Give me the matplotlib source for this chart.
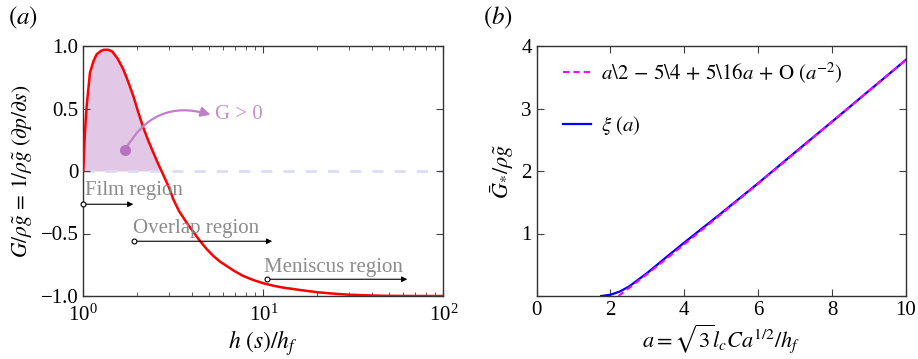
import matplotlib
matplotlib.use('Agg')
import matplotlib.pyplot as plt
from matplotlib.ticker import FixedLocator, FixedFormatter, LogLocator, NullFormatter

# 字体：Times风格
plt.rcParams['font.family'] = 'serif'
plt.rcParams['font.serif'] = ['Liberation Serif', 'DejaVu Serif']
plt.rcParams['mathtext.fontset'] = 'stix'
plt.rcParams['axes.unicode_minus'] = True

# (a) 压力梯度曲线
h_vals = [1.0, 1.02, 1.044, 1.089, 1.14, 1.187, 1.25, 1.3, 1.377, 1.45, 1.55, 1.668,
          1.78, 1.896, 2.02, 2.154, 2.3, 2.45, 2.6, 2.72, 2.85, 3.0, 3.16, 3.4, 3.75,
          4.1, 4.45, 4.85, 5.28, 5.75, 6.26, 6.9, 7.74, 8.8, 10, 11.4, 12.9, 16, 20,
          25, 30, 40, 50, 70, 100]
G_vals = [0.0, 0.30, 0.52, 0.787, 0.88, 0.934, 0.96, 0.97, 0.97, 0.955, 0.90, 0.814,
          0.71, 0.60, 0.47, 0.347, 0.24, 0.147, 0.06, 0.0, -0.065, -0.135, -0.226, -0.32, -0.413,
          -0.49, -0.56, -0.625, -0.68, -0.725, -0.76, -0.80, -0.84, -0.872, -0.898, -0.918,
          -0.933, -0.952, -0.97, -0.982, -0.99, -0.996, -0.999, -1.0, -1.0]

regions = ['Film region', 'Overlap region', 'Meniscus region']
region_start = [1.0, 1.92, 10.5]
region_end = [1.896, 11.2, 63.1]
region_y = [-0.266, -0.562, -0.866]
region_text_h = [1.026, 1.888, 10.09]
region_text_y = [-0.19, -0.497, -0.81]

# (b) 渐近式与数值解
a_xi = [1.75, 2.0, 2.25, 2.5, 3.0, 3.5, 4.0, 4.5, 5.0, 5.5, 6.0, 7.0, 8.0, 9.0, 10.0]
G_xi = [0.0, 0.02, 0.07, 0.15, 0.37, 0.615, 0.855, 1.09, 1.325, 1.565, 1.805, 2.30, 2.79,
        3.285, 3.78]
a_asym = [2.22, 2.5, 3.0, 3.5, 4.0, 5.0, 6.0, 7.0, 8.0, 9.0, 10.0]
G_asym = [0.0, 0.125, 0.354, 0.589, 0.828, 1.31, 1.80, 2.29, 2.79, 3.285, 3.78]

fs = 14

fig = plt.figure(figsize=(9.18, 3.59), dpi=100)
ax1 = fig.add_axes([83.3 / 918, 63 / 359, 360 / 918, 250 / 359])
ax2 = fig.add_axes([536.5 / 918, 63 / 359, 369.5 / 918, 250 / 359])

# ---- (a) ----
ax1.set_xscale('log')
ax1.fill_between(h_vals, G_vals, 0, where=[g >= 0 for g in G_vals], interpolate=True,
                 color='#e2c8e6', lw=0, zorder=1)
ax1.axhline(0, color='#dcdcf6', lw=2, ls=(0, (4, 4)), zorder=1)
ax1.plot(h_vals, G_vals, color='#ff0000', lw=1.8, zorder=3)

ax1.annotate('', xy=(5.1, 0.45), xytext=(1.71, 0.17),
             arrowprops=dict(arrowstyle='-|>', color='#c080c8', lw=1.6, mutation_scale=14,
                             shrinkA=0, shrinkB=0, connectionstyle='arc3,rad=-0.4'), zorder=4)
ax1.plot([1.71], [0.17], 'o', color='#b873c0', ms=7, zorder=5)
ax1.text(5.41, 0.45, 'G > 0', color='#c58fcc', fontsize=fs + 1, va='center', ha='left')

for name, s, e, y, th, ty in zip(regions, region_start, region_end, region_y,
                                 region_text_h, region_text_y):
    ax1.annotate('', xy=(e, y), xytext=(s, y),
                 arrowprops=dict(arrowstyle='-|>', color='black', lw=0.8, mutation_scale=8,
                                 shrinkA=0, shrinkB=0), zorder=4)
    ax1.plot([s], [y], 'o', mfc='white', mec='black', ms=3.5, mew=0.8, zorder=5, clip_on=False)
    ax1.text(th, ty, name, color='#8c8c8c', fontsize=fs + 1, va='baseline', ha='left')

ax1.set_xlim(1, 100)
ax1.set_ylim(-1, 1)
ax1.yaxis.set_major_locator(FixedLocator([-1, -0.5, 0, 0.5, 1]))
ax1.yaxis.set_major_formatter(FixedFormatter(['\u22121.0', '\u22120.5', '0', '0.5', '1.0']))
ax1.xaxis.set_major_locator(LogLocator(base=10, numticks=5))
ax1.xaxis.set_minor_locator(LogLocator(base=10, subs=range(2, 10), numticks=10))
ax1.xaxis.set_minor_formatter(NullFormatter())
ax1.set_xlabel(r'$h\ (s)/h_f$', fontsize=fs + 3, labelpad=2)
ax1.set_ylabel(r'$G/\rho\tilde{g}\,=\,1/\rho\tilde{g}\ (\partial p/\partial s)$',
               fontsize=fs + 1.5, labelpad=4)

# ---- (b) ----
ax2.plot(a_asym, G_asym, color='#ff00ff', lw=1.5, ls=(0, (3, 2)), zorder=3,
         label=r'$a\backslash 2\,-\,5\backslash 4\,+\,5\backslash 16a\,+\,\mathrm{O}\ (a^{-2})$')
ax2.plot(a_xi, G_xi, color='#0000ff', lw=1.6, zorder=2, label=r'$\xi\ (a)$')
handles, labels = ax2.get_legend_handles_labels()
ax2.legend(handles, labels, loc='upper left', frameon=False, fontsize=fs + 1,
           labelspacing=1.35, handlelength=1.35, handletextpad=0.45,
           borderaxespad=0.3, bbox_to_anchor=(0.033, 1.0))
ax2.set_xlim(0, 10)
ax2.set_ylim(0, 4)
ax2.set_xticks([0, 2, 4, 6, 8, 10])
ax2.set_yticks([0, 1, 2, 3, 4])
ax2.set_yticklabels(['', '1', '2', '3', '4'])
ax2.set_xlabel(r'$a = \sqrt{3}l_cCa^{1/2}/h_f$', fontsize=fs + 2, labelpad=2)
ax2.set_ylabel(r'$\bar{G}_{*}/\rho\tilde{g}$', fontsize=fs + 2, labelpad=4)

for ax in (ax1, ax2):
    ax.tick_params(which='both', direction='in', top=True, right=True, labelsize=fs + 1,
                   color='#404040')
    ax.tick_params(which='major', length=5, width=0.8)
    ax.tick_params(which='minor', length=3, width=0.6)
    for sp in ax.spines.values():
        sp.set_color('#333333')
        sp.set_linewidth(1.0)
ax1.tick_params(axis='x', which='major', pad=6)

fig.text(8 / 918, 1 - 18 / 359, r'$(a)$', fontsize=fs + 4, va='center', ha='left')
fig.text(483 / 918, 1 - 18 / 359, r'$(b)$', fontsize=fs + 4, va='center', ha='left')

fig.savefig('out.png', dpi=100, facecolor='white')
plt.close(fig)
